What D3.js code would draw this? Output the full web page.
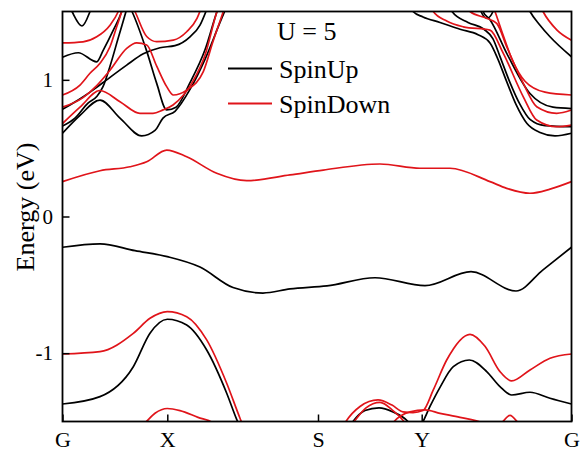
<!DOCTYPE html>
<html>
<head>
<meta charset="utf-8">
<script src="https://cdn.jsdelivr.net/npm/d3@7"></script>
<style>
  body { margin: 0; background: #ffffff; }
</style>
</head>
<body>
<svg id="chart" width="580" height="452"></svg>
<script>
// High-symmetry points along the k-path
const kPoints = [0, 1.048, 2.555, 3.592, 5.09];
const kLabels = ["G", "X", "S", "Y", "G"];
const energyTicks = [-1, 0, 1];
const energyRange = [-1.5, 1.5];

// Spin-up bands: each band is a list of [k, E (eV)]
const spinUpBands = [
  [[0,-0.225],[0.375,-0.20],[0.725,-0.25],[1.048,-0.294],[1.375,-0.37],[1.705,-0.52],[2.005,-0.56],[2.275,-0.53],[2.645,-0.508],[3.125,-0.448],[3.625,-0.506],[4.085,-0.404],[4.535,-0.545],[4.805,-0.39],[5.09,-0.225]],
  [[0,-1.372],[0.375,-1.318],[0.708,-1.099],[0.875,-0.854],[1.048,-0.752],[1.242,-0.794],[1.442,-0.977],[1.642,-1.293],[1.745,-1.49],[1.825,-1.62]],
  [[3.425,-1.65],[3.592,-1.52],[3.675,-1.39],[3.775,-1.25],[3.908,-1.099],[4.068,-1.05],[4.242,-1.135],[4.375,-1.245],[4.492,-1.306],[4.675,-1.286],[4.875,-1.33],[5.09,-1.372]],
  [[2.805,-1.62],[2.905,-1.50],[3.025,-1.42],[3.165,-1.40],[3.305,-1.43],[3.455,-1.50],[3.555,-1.6]],
  [[0,0.609],[0.175,0.74],[0.375,0.852],[0.575,0.72],[0.792,0.59],[0.925,0.63],[1.005,0.72],[1.125,0.77],[1.275,0.93],[1.425,1.15],[1.575,1.42],[1.655,1.56]],
  [[0.655,1.56],[0.695,1.50],[0.842,1.21],[0.942,0.974],[1.042,0.78],[1.135,0.80],[1.275,0.98],[1.425,1.22],[1.545,1.50],[1.585,1.58]],
  [[0,0.662],[0.125,0.72],[0.255,0.83],[0.345,0.88],[0.405,0.95],[0.475,1.10],[0.555,1.30],[0.635,1.50],[0.675,1.60]],
  [[0,0.784],[0.208,0.876],[0.342,0.945],[0.442,1.00],[0.642,1.108],[0.808,1.19],[0.975,1.235],[1.125,1.25],[1.275,1.315],[1.375,1.40],[1.445,1.52]],
  [[0,1.165],[0.158,1.198],[0.342,1.132],[0.408,1.218],[0.508,1.364],[0.592,1.50],[0.625,1.58]],
  [[0.055,1.56],[0.095,1.50],[0.195,1.394],[0.275,1.50],[0.305,1.56]],
  [[3.455,1.56],[3.505,1.50],[3.605,1.46],[3.775,1.42],[3.975,1.37],[4.155,1.33],[4.275,1.27],[4.355,1.15],[4.435,1.00],[4.535,0.82],[4.645,0.68],[4.775,0.615],[4.925,0.59],[5.09,0.609]],
  [[3.855,1.56],[3.895,1.50],[4.055,1.42],[4.215,1.37],[4.305,1.30],[4.375,1.17],[4.475,0.98],[4.575,0.82],[4.675,0.71],[4.825,0.665],[5.09,0.657]],
  [[4.175,1.56],[4.205,1.50],[4.275,1.44],[4.445,1.19],[4.675,0.90],[4.905,0.80],[5.09,0.79]],
  [[4.635,1.56],[4.675,1.50],[4.775,1.40],[4.875,1.315],[5.09,1.169]],
  [[4.155,1.56],[4.185,1.50],[4.245,1.45],[4.305,1.50],[4.335,1.56]]
];

// Spin-down bands
const spinDownBands = [
  [[0,0.255],[0.375,0.335],[0.675,0.364],[0.842,0.40],[1.042,0.486],[1.242,0.437],[1.542,0.316],[1.842,0.262],[2.275,0.304],[2.608,0.34],[3.175,0.384],[3.575,0.353],[3.875,0.353],[4.275,0.255],[4.442,0.206],[4.675,0.17],[4.875,0.20],[5.09,0.255]],
  [[0,-1.006],[0.375,-0.989],[0.708,-0.855],[0.875,-0.745],[1.048,-0.696],[1.242,-0.733],[1.442,-0.903],[1.642,-1.22],[1.775,-1.476],[1.875,-1.65]],
  [[0.625,-1.62],[0.825,-1.51],[0.925,-1.44],[1.048,-1.405],[1.175,-1.42],[1.355,-1.47],[1.505,-1.51],[1.655,-1.62]],
  [[2.725,-1.65],[2.825,-1.51],[2.975,-1.39],[3.155,-1.342],[3.295,-1.38],[3.405,-1.43],[3.505,-1.435],[3.605,-1.42],[3.708,-1.269],[3.842,-1.05],[4.075,-0.862],[4.225,-0.95],[4.375,-1.135],[4.492,-1.203],[4.675,-1.123],[4.875,-1.037],[5.09,-1.006]],
  [[2.775,-1.62],[2.905,-1.51],[3.035,-1.40],[3.175,-1.36],[3.305,-1.42],[3.425,-1.51],[3.495,-1.6]],
  [[3.225,-1.62],[3.305,-1.51],[3.475,-1.43],[3.625,-1.415],[3.775,-1.44],[3.975,-1.47],[4.195,-1.51],[4.325,-1.6]],
  [[4.325,-1.58],[4.395,-1.51],[4.475,-1.455],[4.555,-1.51],[4.625,-1.58]],
  [[0,0.68],[0.175,0.80],[0.375,0.922],[0.575,0.84],[0.775,0.755],[0.905,0.755],[1.005,0.78],[1.105,0.816],[1.305,0.99],[1.425,1.18],[1.545,1.50],[1.585,1.58]],
  [[0,0.80],[0.205,0.87],[0.345,0.96],[0.475,1.07],[0.642,1.23],[0.742,1.27],[0.842,1.255],[0.942,1.10],[1.042,0.95],[1.108,0.889],[1.242,0.925],[1.408,1.06],[1.505,1.28],[1.608,1.50],[1.635,1.56]],
  [[0,0.889],[0.175,0.962],[0.275,1.048],[0.375,1.121],[0.475,1.242],[0.542,1.388],[0.592,1.50],[0.615,1.56]],
  [[0,1.27],[0.205,1.278],[0.342,1.315],[0.475,1.40],[0.558,1.50],[0.585,1.55]],
  [[0.685,1.56],[0.725,1.50],[0.842,1.317],[0.942,1.279],[1.108,1.291],[1.242,1.352],[1.345,1.45],[1.385,1.52]],
  [[3.675,1.56],[3.708,1.50],[3.842,1.43],[4.008,1.388],[4.275,1.364],[4.408,1.194],[4.608,0.876],[4.742,0.706],[4.942,0.657],[5.09,0.669]],
  [[4.035,1.56],[4.075,1.50],[4.242,1.45],[4.342,1.413],[4.442,1.242],[4.608,0.974],[4.742,0.803],[4.942,0.755],[5.09,0.779]],
  [[4.295,1.56],[4.325,1.50],[4.405,1.33],[4.495,1.15],[4.625,0.99],[4.825,0.91],[5.09,0.889]],
  [[4.765,1.56],[4.805,1.50],[4.945,1.364],[5.09,1.29]]
];

const seriesNames = ["SpinUp", "SpinDown"];
const seriesColors = ["#000000", "#e0141a"];
const paramLabel = "U = 5";
const yTitle = "Energy (eV)";
const serif = '"Liberation Serif", "Times New Roman", Times, serif';

const svg = d3.select("#chart");
const plotLeft = 62.5, plotRight = 571.5, plotTop = 11.5, plotBottom = 421.5;

const x = d3.scaleLinear().domain([kPoints[0], kPoints[kPoints.length - 1]]).range([plotLeft, plotRight]);
const y = d3.scaleLinear().domain(energyRange).range([plotBottom, plotTop]);

svg.append("defs").append("clipPath").attr("id", "plot-clip")
  .append("rect").attr("x", plotLeft).attr("y", plotTop)
  .attr("width", plotRight - plotLeft).attr("height", plotBottom - plotTop);

const line = d3.line()
  .x(d => x(d[0]))
  .y(d => y(d[1]))
  .curve(d3.curveMonotoneX);

const bandLayer = svg.append("g").attr("clip-path", "url(#plot-clip)");
[spinUpBands, spinDownBands].forEach((bands, i) => {
  bandLayer.append("g")
    .selectAll("path")
    .data(bands)
    .join("path")
    .attr("d", line)
    .attr("fill", "none")
    .attr("stroke", seriesColors[i])
    .attr("stroke-width", 1.7)
    .attr("stroke-linejoin", "round");
});

// Axes with inward ticks
const yAxis = d3.axisLeft(y)
  .tickValues(energyTicks)
  .tickFormat(d => String(d))
  .tickSizeInner(-7)
  .tickSizeOuter(0)
  .tickPadding(9.5);
const gy = svg.append("g").attr("transform", `translate(${plotLeft},0)`).call(yAxis);
gy.select(".domain").remove();
gy.selectAll(".tick line").attr("stroke", "#000").attr("stroke-width", 1.5);
gy.selectAll(".tick text")
  .attr("fill", "#000")
  .style("font-family", serif)
  .style("font-size", "21px");

const xAxis = d3.axisBottom(x)
  .tickValues(kPoints)
  .tickFormat((d, i) => kLabels[i])
  .tickSizeInner(-7)
  .tickSizeOuter(0)
  .tickPadding(10);
const gx = svg.append("g").attr("transform", `translate(0,${plotBottom})`).call(xAxis);
gx.select(".domain").remove();
gx.selectAll(".tick line").attr("stroke", "#000").attr("stroke-width", 1.5);
gx.selectAll(".tick text")
  .attr("fill", "#000")
  .style("font-family", serif)
  .style("font-size", "22px");

// Frame
svg.append("rect")
  .attr("x", plotLeft).attr("y", plotTop)
  .attr("width", plotRight - plotLeft).attr("height", plotBottom - plotTop)
  .attr("fill", "none").attr("stroke", "#000").attr("stroke-width", 1.8);

// Axis title
svg.append("text")
  .attr("transform", `translate(33.5,207) rotate(-90)`)
  .attr("text-anchor", "middle")
  .style("font-family", serif)
  .style("font-size", "26px")
  .text(yTitle);

// Legend
const legend = svg.append("g").style("font-family", serif).style("font-size", "26px");
legend.append("text").attr("x", 277).attr("y", 40).text(paramLabel);
seriesNames.forEach((name, i) => {
  const ly = 68.5 + i * 35;
  legend.append("line")
    .attr("x1", 228).attr("x2", 272).attr("y1", ly).attr("y2", ly)
    .attr("stroke", seriesColors[i]).attr("stroke-width", 2);
  legend.append("text").attr("x", 279).attr("y", ly + 9.5).text(name);
});
</script>
</body>
</html>
